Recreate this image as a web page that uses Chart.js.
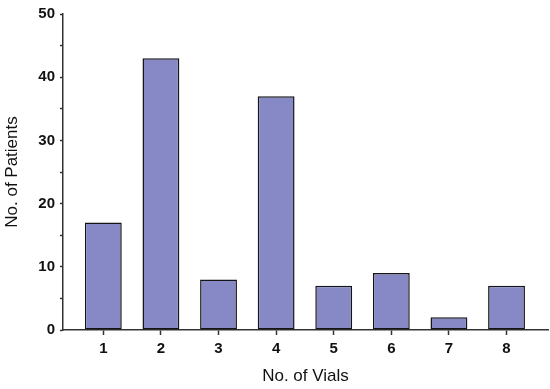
<!DOCTYPE html>
<html>
<head>
<meta charset="utf-8">
<script src="https://cdn.jsdelivr.net/npm/chart.js@4"></script>
<style>
  html, body { margin: 0; padding: 0; background: #fff; }
  #wrap { width: 550px; height: 389px; }
</style>
</head>
<body>
<div id="wrap"><canvas id="myChartVials"></canvas></div>
<script>
// Data
const vials = [1, 2, 3, 4, 5, 6, 7, 8];
const patients = [17, 43, 8, 37, 7, 9, 2, 7];
const yTicks = [0, 10, 20, 30, 40, 50];

const axisColor = "#333333";
const font = "Arial, 'Liberation Sans', sans-serif";

// Create the chart
const ctx = document.getElementById("myChartVials").getContext("2d");
new Chart(ctx, {
  type: "bar",
  data: {
    datasets: [
      {
        label: "No. of Patients",
        data: vials.map((v, i) => ({ x: v, y: patients[i] })),
        backgroundColor: "rgb(134, 137, 198)",
        borderColor: "#151515",
        borderWidth: 1.5,
        borderSkipped: false,
        barPercentage: 0.8,
        categoryPercentage: 0.8,
      },
    ],
  },
  options: {
    responsive: true,
    maintainAspectRatio: false,
    animation: false,
    layout: { padding: { top: 12, right: 2, left: 0, bottom: 0 } },
    plugins: {
      legend: { display: false },
      tooltip: { enabled: false },
    },
    scales: {
      x: {
        type: "linear",
        min: 0.3,
        max: 8.72,
        offset: false,
        afterBuildTicks: (axis) => {
          axis.ticks = vials.map((v) => ({ value: v }));
        },
        afterFit: (scale) => {
          scale.height = 59;
        },
        grid: {
          offset: false,
          drawOnChartArea: false,
          tickLength: 5,
          tickColor: axisColor,
          tickWidth: 1.5,
        },
        border: { color: axisColor, width: 1.5 },
        ticks: {
          color: "#111",
          padding: 5,
          font: { family: font, size: 15, weight: "bold" },
        },
        title: {
          display: true,
          text: "No. of Vials",
          color: "#111",
          padding: { top: 0, bottom: 2 },
          font: { family: font, size: 17 },
        },
      },
      y: {
        min: 0,
        max: 50,
        afterBuildTicks: (axis) => {
          const t = [];
          for (let v = 0; v <= 50; v += 2.5) t.push({ value: v });
          axis.ticks = t;
        },
        afterFit: (scale) => {
          scale.width = 63;
        },
        grid: {
          drawOnChartArea: false,
          tickLength: 3,
          tickColor: axisColor,
          tickWidth: 1.5,
        },
        border: { color: axisColor, width: 1.5 },
        ticks: {
          color: "#111",
          padding: 5,
          font: { family: font, size: 15, weight: "bold" },
          callback: (value) => (yTicks.includes(value) ? value : ""),
        },
        title: {
          display: true,
          text: "No. of Patients",
          color: "#111",
          padding: { top: 2, bottom: 0 },
          font: { family: font, size: 17 },
        },
      },
    },
  },
});
</script>
</body>
</html>
